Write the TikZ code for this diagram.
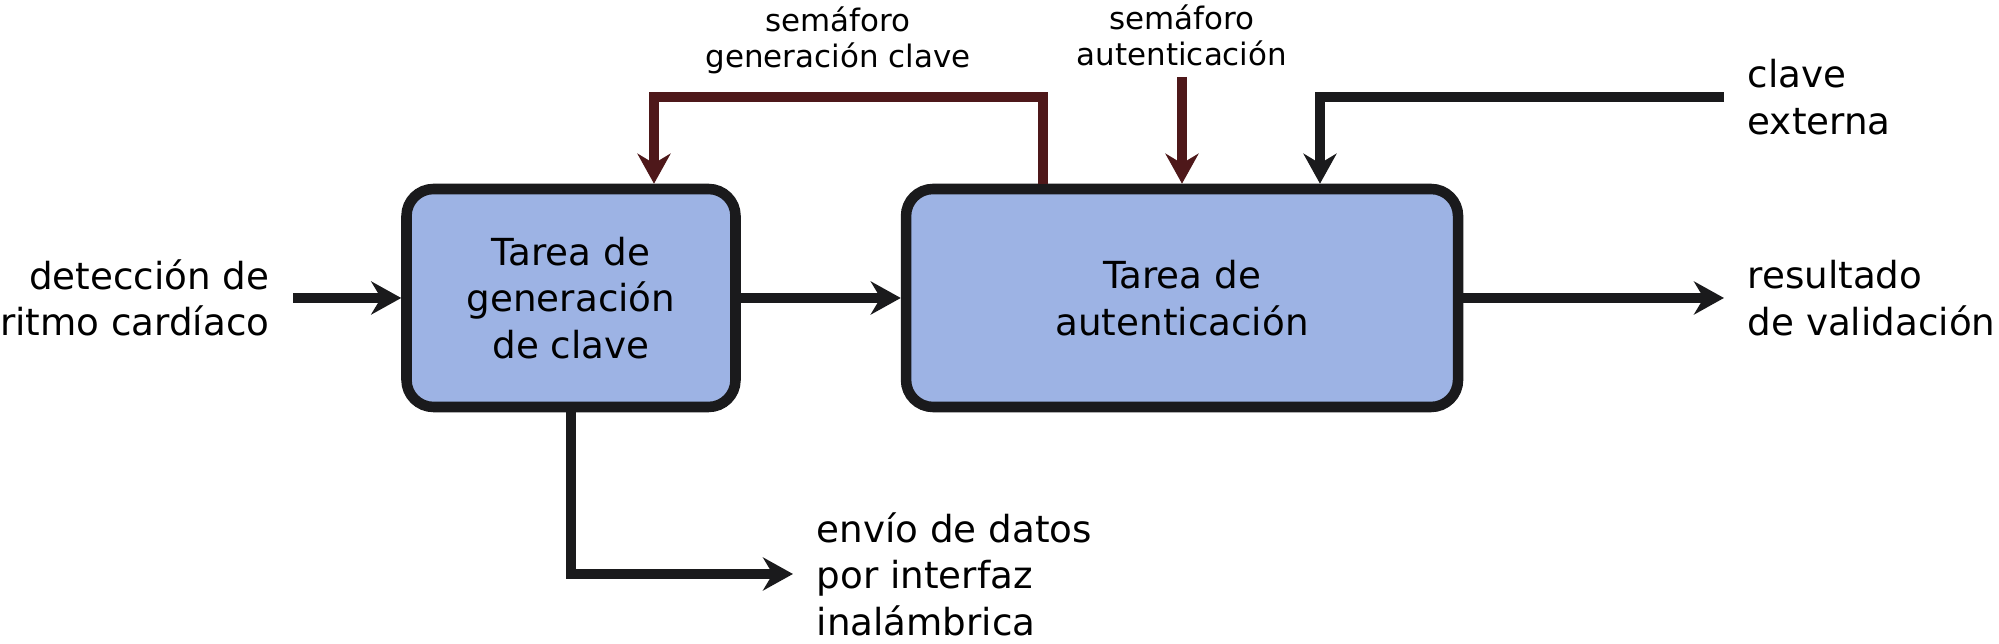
\documentclass[tikz,border=0pt]{standalone}
\usepackage{fontspec}
\setmainfont{DejaVu Sans}
\usetikzlibrary{positioning,arrows.meta,calc}
\definecolor{Ink}{RGB}{26,26,28}
\definecolor{Blue}{RGB}{157,179,228}
\definecolor{Wine}{RGB}{78,24,26}

\begin{document}
\begin{tikzpicture}[node distance=1.6cm,
 b/.style={rounded corners=.27cm,draw=Ink,line width=3pt,fill=Blue,minimum width=3.29cm,minimum height=2.18cm,inner sep=0pt,align=center,font=\fontsize{10.6}{13.2}\selectfont},
 a/.style={-{Stealth[length=.3cm,width=.33cm]},line width=3pt,Ink},
 r/.style={a,Wine},
 t/.style={inner sep=0pt,align=left,font=\fontsize{10.6}{13.2}\selectfont},
 s/.style={inner sep=0pt,align=center,font=\fontsize{8.8}{10.2}\selectfont}]
\useasboundingbox (0,0) rectangle (19.99,6.44);
\node[b] (gen) at (5.71,3.46) {Tarea de\\generación\\de clave};
\node[b,minimum width=5.52cm,right=of gen] (aut) {Tarea de\\autenticación};
% entrada y salidas
\node[t,align=right,anchor=east] (det) at (2.70,3.46) {detección de\\ritmo cardíaco};
\coordinate (in) at (2.93,3.46);
\draw[a] (in)--(gen.west);
\draw[a] (gen)--(aut);
\node[t,anchor=west] (res) at (17.47,3.46) {resultado\\de validación};
\coordinate (out) at (17.24,3.46);
\draw[a] (aut)--(out);
\node[t,anchor=west] (env) at (8.16,0.70) {envío de datos\\por interfaz\\inalámbrica};
\coordinate (tx) at (7.93,0.70);
\draw[a] (gen.south) |- (tx);
% semaforos
\coordinate (fb) at (10.43,5.47);
\coordinate (fa) at (6.54,5.47);
\draw[r] (fb |- aut.north)--(fb)--(fa)--(fa |- gen.north);
\node[s] (sg) at (8.38,6.04) {semáforo\\generación clave};
\coordinate (sa) at (11.82,5.67);
\node[s,above=.1cm of sa] (sau) {semáforo\\autenticación};
\draw[r] (sa)--(sa |- aut.north);
% clave externa
\coordinate (ce) at (17.24,5.47);
\coordinate (cx) at (13.20,5.47);
\draw[a] (ce)--(cx)--(cx |- aut.north);
\node[t,anchor=west] (cex) at (17.47,5.47) {clave\\externa};
\end{tikzpicture}
\end{document}
